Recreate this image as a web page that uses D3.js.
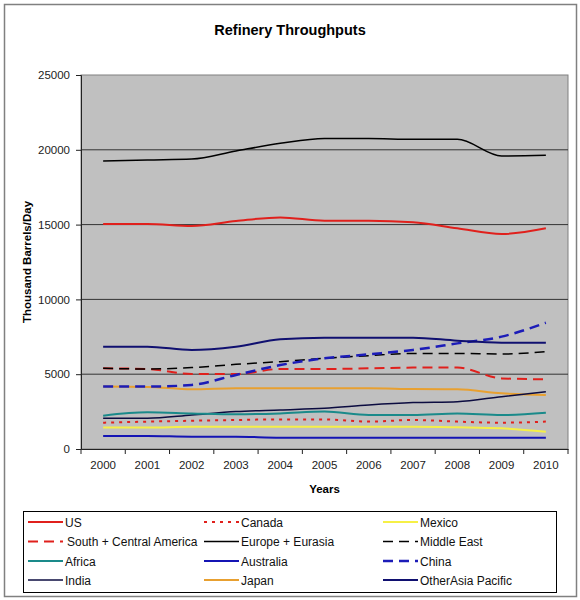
<!DOCTYPE html>
<html>
<head>
<meta charset="utf-8">
<script src="https://cdn.jsdelivr.net/npm/d3@7"></script>
<style>
  html, body { margin: 0; padding: 0; background: #ffffff; }
  svg { display: block; font-family: "Liberation Sans", Arial, sans-serif; }
</style>
</head>
<body>
<svg id="chart" width="580" height="600"></svg>
<script>
// ---- data ----
const years = ["2000","2001","2002","2003","2004","2005","2006","2007","2008","2009","2010"];
const yTicks = [0, 5000, 10000, 15000, 20000, 25000];

const us            = [15040, 15040, 14910, 15240, 15480, 15260, 15260, 15150, 14750, 14370, 14750];
const canada        = [1760, 1830, 1890, 1940, 1980, 1980, 1830, 1940, 1830, 1760, 1830];
const mexico        = [1430, 1430, 1490, 1490, 1490, 1490, 1490, 1490, 1450, 1380, 1160];
const southCentral  = [5390, 5350, 5010, 5010, 5350, 5350, 5390, 5440, 5440, 4720, 4660];
const europe        = [19250, 19320, 19380, 19920, 20430, 20760, 20760, 20700, 20700, 19590, 19630];
const middleEast    = [5390, 5350, 5440, 5660, 5840, 6060, 6240, 6390, 6390, 6350, 6500];
const africa        = [2230, 2450, 2380, 2320, 2380, 2500, 2270, 2270, 2380, 2270, 2430];
const australia     = [870, 870, 820, 820, 760, 760, 760, 760, 760, 760, 760];
const china         = [4170, 4170, 4280, 4950, 5610, 6060, 6330, 6620, 7060, 7510, 8440];
const india         = [2050, 2050, 2270, 2500, 2610, 2720, 2940, 3100, 3160, 3500, 3830];
const japan         = [4170, 4150, 3990, 4060, 4060, 4060, 4060, 4010, 3990, 3720, 3610];
const otherAsia     = [6840, 6840, 6620, 6840, 7330, 7440, 7440, 7440, 7240, 7110, 7110];

const seriesNames = ["US","Canada","Mexico","South + Central America","Europe + Eurasia","Middle East",
                     "Africa","Australia","China","India","Japan","OtherAsia Pacific"];
const seriesValues = [us, canada, mexico, southCentral, europe, middleEast, africa, australia, china, india, japan, otherAsia];
const seriesColors = ["#e0201c","#e0201c","#f6f046","#e0201c","#000000","#000000",
                      "#1a8a8a","#1414b4","#1c1cb8","#0c0c40","#e8a030","#101070"];
const seriesDash   = [null,"3,5",null,"10,6",null,"10,6",null,null,"10,6",null,null,null];
const seriesWidth  = [2,2,2,2,1.5,1.5,2,2,2.5,1.5,2,2];

// ---- layout ----
const svg = d3.select("#chart");
const L = 81, R = 568, T = 75, B = 449;

const x = d3.scaleBand().domain(years).range([L, R]).padding(0);
const y = d3.scaleLinear().domain([0, 25000]).range([B, T]);

// outer border
svg.append("rect").attr("x", 4.5).attr("y", 4.5).attr("width", 572).attr("height", 592)
  .attr("fill", "#fff").attr("stroke", "#808080").attr("stroke-width", 1.5);

// title
svg.append("text").attr("x", 290).attr("y", 35).attr("text-anchor", "middle")
  .attr("font-size", 14.5).attr("font-weight", "bold").attr("fill", "#000").text("Refinery Throughputs");

// plot area
svg.append("rect").attr("x", L).attr("y", T).attr("width", R - L).attr("height", B - T)
  .attr("fill", "#c0c0c0").attr("stroke", "#808080").attr("stroke-width", 1);

// gridlines
svg.append("g").selectAll("line").data(yTicks.filter(d => d > 0 && d < 25000)).join("line")
  .attr("x1", L).attr("x2", R).attr("y1", d => y(d)).attr("y2", d => y(d))
  .attr("stroke", "#333").attr("stroke-width", 1);

// y axis
const yAxis = svg.append("g").attr("transform", `translate(${L},0)`)
  .call(d3.axisLeft(y).tickValues(yTicks).tickSize(5).tickPadding(6).tickFormat(d3.format("d")));
yAxis.selectAll("text").attr("font-size", 11.5).attr("fill", "#222").attr("font-family", "Liberation Sans, Arial, sans-serif");
yAxis.selectAll("line").attr("stroke", "#222");
yAxis.select(".domain").attr("stroke", "#222");

// x axis
const xAxis = svg.append("g").attr("transform", `translate(0,${B})`)
  .call(d3.axisBottom(x).tickSize(0).tickPadding(12));
xAxis.selectAll("text").attr("font-size", 11.5).attr("fill", "#222").attr("font-family", "Liberation Sans, Arial, sans-serif");
xAxis.select(".domain").attr("stroke", "#222");
const boundaries = years.map(d => x(d)).concat([x.range()[1]]);
xAxis.selectAll(".btick").data(boundaries).join("line").attr("class", "btick")
  .attr("x1", d => d).attr("x2", d => d).attr("y1", 0).attr("y2", 5).attr("stroke", "#222");

// axis titles
svg.append("text").attr("x", (L + R) / 2).attr("y", 493).attr("text-anchor", "middle")
  .attr("font-size", 11.5).attr("font-weight", "bold").text("Years");
svg.append("text").attr("transform", `translate(31,${(T + B) / 2}) rotate(-90)`).attr("text-anchor", "middle")
  .attr("font-size", 11.5).attr("font-weight", "bold").text("Thousand Barrels/Day");

// lines
const line = d3.line().x((d, i) => x(years[i]) + x.bandwidth() / 2).y(d => y(d)).curve(d3.curveMonotoneX);
const drawOrder = [4, 0, 10, 9, 6, 1, 2, 7, 3, 5, 8, 11];
svg.append("g").selectAll("path").data(drawOrder).join("path")
  .attr("d", i => line(seriesValues[i]))
  .attr("fill", "none")
  .attr("stroke", i => seriesColors[i])
  .attr("stroke-width", i => seriesWidth[i])
  .attr("stroke-dasharray", i => seriesDash[i]);

// legend
svg.append("rect").attr("x", 23.5).attr("y", 511.5).attr("width", 533).attr("height", 81)
  .attr("fill", "#fff").attr("stroke", "#000").attr("stroke-width", 1);
const colX = [28, 204, 383];
const rowY = [522, 541.5, 561, 580];
const lg = svg.append("g").selectAll("g").data(seriesNames).join("g")
  .attr("transform", (d, i) => `translate(${colX[i % 3]},${rowY[Math.floor(i / 3)]})`);
lg.append("line").attr("x1", 0).attr("x2", 35).attr("y1", 0).attr("y2", 0)
  .attr("stroke", (d, i) => seriesColors[i])
  .attr("stroke-width", (d, i) => seriesWidth[i])
  .attr("stroke-dasharray", (d, i) => seriesDash[i]);
lg.append("text").attr("x", (d, i) => i === 3 ? 39 : 37).attr("y", 4.5).attr("font-size", 12).attr("fill", "#111").text(d => d);
</script>
</body>
</html>
